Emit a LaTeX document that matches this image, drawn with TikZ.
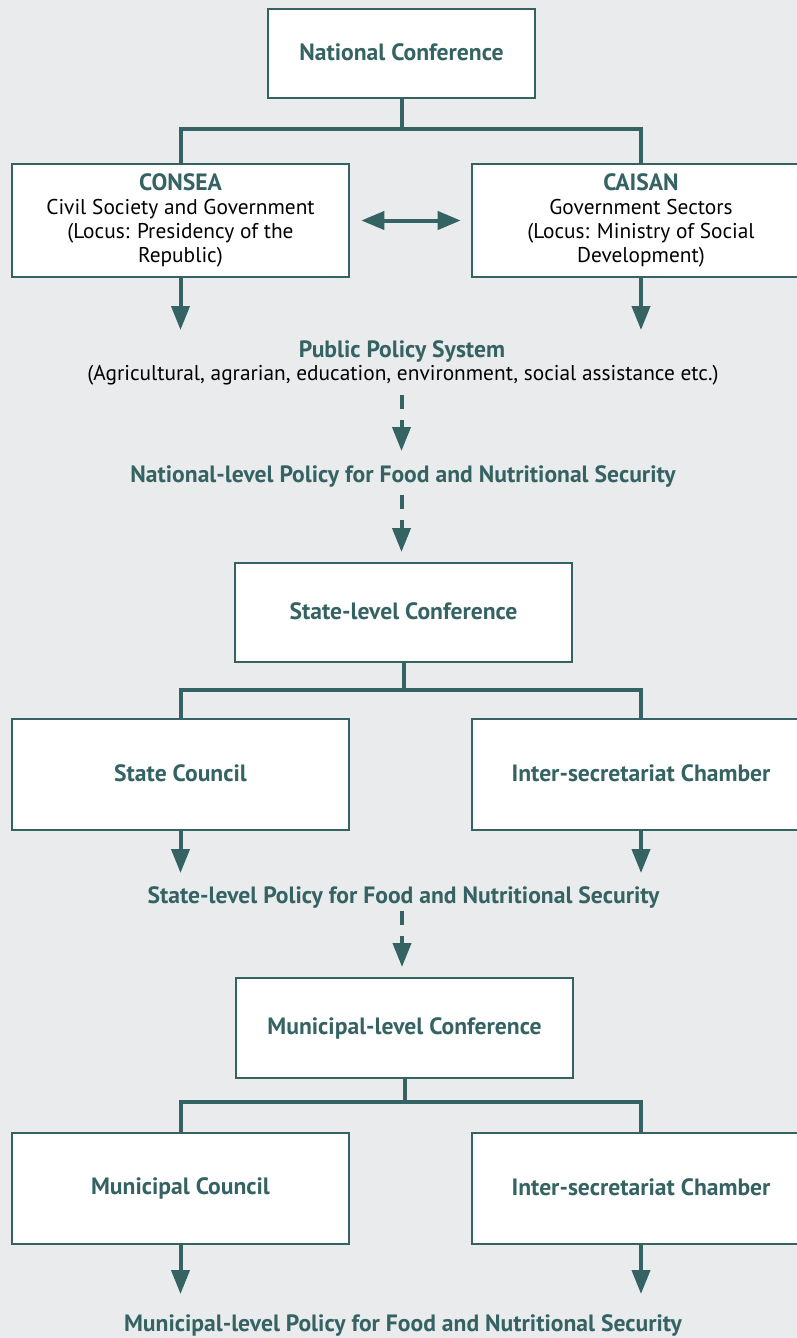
\documentclass[tikz,border=0pt]{standalone}
\usepackage{fontspec}
\setmainfont{PT Sans}
\usetikzlibrary{arrows.meta}
\definecolor{tealc}{HTML}{356262}
\definecolor{bgc}{HTML}{E9EBEC}
\newcommand{\hd}[1]{{\color{tealc}\bfseries\fontsize{23.6}{24}\selectfont #1}}
\newcommand{\bx}[1]{\hd{#1}\rule[-2pt]{0pt}{16pt}}
\tikzset{
  box/.style={draw=tealc, line width=2.6pt, fill=white, inner sep=0pt, align=center,
    font=\fontsize{21.35}{24}\selectfont},
  ttl/.style={text=tealc, inner sep=0pt, font=\bfseries\fontsize{23.6}{24}\selectfont},
  sub/.style={text=black, inner sep=0pt, font=\fontsize{21.35}{24}\selectfont},
  conn/.style={draw=tealc, line width=4pt},
  arr/.style={conn, -{Triangle[length=24pt,width=18pt]}},
  darr/.style={arr, dash pattern=on 14pt off 11pt},
  dblarr/.style={conn, {Triangle[length=23pt,width=18pt]}-{Triangle[length=23pt,width=18pt]}},
}
\begin{document}
\begin{tikzpicture}[x=1pt,y=-1pt]
\fill[bgc] (0,0) rectangle (797,1338);
\useasboundingbox (0,0) rectangle (797,1338);

% national level
\node[box, minimum width=267pt, minimum height=89pt] (nat) at (401.5,53.5) {\bx{National Conference}};
\node[box, minimum width=337pt, minimum height=113pt] (consea) at (180.5,220.5)
  {\hd{CONSEA}\\Civil Society and Government\\(Locus: Presidency of the\\Republic)};
\node[box, minimum width=338pt, minimum height=113pt] (caisan) at (641,220.5)
  {\hd{CAISAN}\\Government Sectors\\(Locus: Ministry of Social\\Development)};
\coordinate (j1) at (401.5,129);
\draw[conn] (nat.south) -- (j1) -| (consea.north);
\draw[conn] (j1) -| (caisan.north);
\draw[dblarr, shorten <=11pt, shorten >=10pt] (consea.east) -- (caisan.west);
\coordinate (a1) at (180.5,330);
\coordinate (a2) at (641,330);
\draw[arr] (consea.south) -- (a1);
\draw[arr] (caisan.south) -- (a2);

\node[ttl, anchor=base] (pps) at (402,357) {Public Policy System};
\node[sub, anchor=base] (ppsub) at (403,380) {(Agricultural, agrarian, education, environment, social assistance etc.)};
\coordinate (d1s) at (401.5,395);
\coordinate (d1e) at (401.5,451);
\draw[darr] (d1s) -- (d1e);
\node[ttl, anchor=base] (natpol) at (403,482) {National-level Policy for Food and Nutritional Security};
\coordinate (d2s) at (401.5,495);
\coordinate (d2e) at (401.5,552);
\draw[darr] (d2s) -- (d2e);

% state level
\node[box, minimum width=337pt, minimum height=99pt] (stconf) at (403.5,612.5) {\bx{State-level Conference}};
\node[box, minimum width=337pt, minimum height=111pt] (stcoun) at (180.5,774.5) {\bx{State Council}};
\node[box, minimum width=338pt, minimum height=111pt] (stcham) at (641,774.5) {\bx{Inter-secretariat Chamber}};
\coordinate (j2) at (403.5,690);
\draw[conn] (stconf.south) -- (j2) -| (stcoun.north);
\draw[conn] (j2) -| (stcham.north);
\coordinate (a3) at (180.5,873);
\coordinate (a4) at (641,873);
\draw[arr] (stcoun.south) -- (a3);
\draw[arr] (stcham.south) -- (a4);
\node[ttl, anchor=base] (stpol) at (403.5,903) {State-level Policy for Food and Nutritional Security};
\coordinate (d3s) at (402,911);
\coordinate (d3e) at (402,967);
\draw[darr] (d3s) -- (d3e);

% municipal level
\node[box, minimum width=337pt, minimum height=100pt] (muconf) at (404.5,1028) {\bx{Municipal-level Conference}};
\node[box, minimum width=337pt, minimum height=111pt] (mucoun) at (180.5,1188.5) {\bx{Municipal Council}};
\node[box, minimum width=338pt, minimum height=111pt] (mucham) at (641,1188.5) {\bx{Inter-secretariat Chamber}};
\coordinate (j3) at (404.5,1102);
\draw[conn] (muconf.south) -- (j3) -| (mucoun.north);
\draw[conn] (j3) -| (mucham.north);
\coordinate (a5) at (180.5,1294);
\coordinate (a6) at (641,1294);
\draw[arr] (mucoun.south) -- (a5);
\draw[arr] (mucham.south) -- (a6);
\node[ttl, anchor=base] (mupol) at (403,1331) {Municipal-level Policy for Food and Nutritional Security};
\end{tikzpicture}
\end{document}
